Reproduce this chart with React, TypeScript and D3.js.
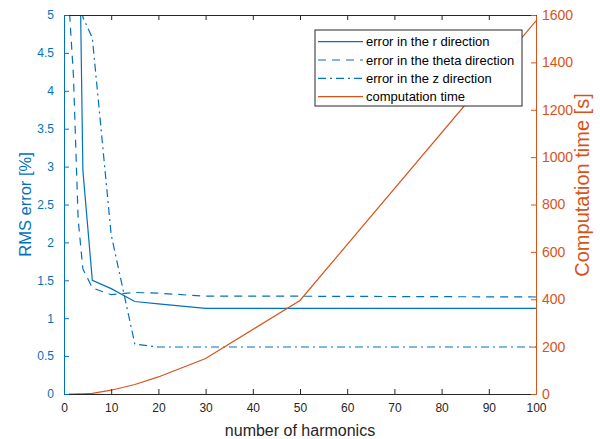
import React, { useEffect, useRef } from 'react';
import * as d3 from 'd3';

const width = 600;
const height = 439;
const margin = { top: 15, right: 64, bottom: 45, left: 64 };

// harmonics sampled in the study
const harmonics = [1, 2, 3, 4, 6, 10, 15, 20, 30, 50, 100];

// RMS error [%] per direction (values above 5 are cut off by the axes)
const errorR = [30, 15, 7.3, 2.95, 1.5, 1.39, 1.22, 1.19, 1.13, 1.13, 1.13];
const errorTheta = [5.2, 4.2, 2.3, 1.65, 1.4, 1.31, 1.34, 1.33, 1.29, 1.29, 1.28];
const errorZ = [20, 12, 6.5, 4.97, 4.7, 2.1, 0.66, 0.62, 0.62, 0.62, 0.62];

// computation time [s]
const compTime = [0, 0, 0.5, 1, 3, 16, 40, 72, 150, 395, 1575];

const xTicks = [0, 10, 20, 30, 40, 50, 60, 70, 80, 90, 100];
const leftTicks = [0, 0.5, 1, 1.5, 2, 2.5, 3, 3.5, 4, 4.5, 5];
const rightTicks = [0, 200, 400, 600, 800, 1000, 1200, 1400, 1600];

const legendLabels = [
  'error in the r direction',
  'error in the theta direction',
  'error in the z direction',
  'computation time',
];

const blue = '#0072BD';
const orange = '#D95319';
const dark = '#262626';
const font = '"Liberation Sans", Arial, sans-serif';

const x0 = margin.left;
const x1 = width - margin.right;
const y0 = height - margin.bottom;
const y1 = margin.top;

export default function App() {
  const xAxisRef = useRef<SVGGElement>(null);
  const topAxisRef = useRef<SVGGElement>(null);
  const leftAxisRef = useRef<SVGGElement>(null);
  const rightAxisRef = useRef<SVGGElement>(null);

  const xScale = d3.scaleLinear().domain([0, 100]).range([x0, x1]);
  const yLeft = d3.scaleLinear().domain([0, 5]).range([y0, y1]);
  const yRight = d3.scaleLinear().domain([0, 1600]).range([y0, y1]);

  const leftLine = d3.line<number>()
    .x((_, i) => xScale(harmonics[i]))
    .y(d => yLeft(d));
  const rightLine = d3.line<number>()
    .x((_, i) => xScale(harmonics[i]))
    .y(d => yRight(d));

  const series = [
    { values: errorR, dash: null },
    { values: errorTheta, dash: '8,6' },
    { values: errorZ, dash: '8,4,2,4' },
  ];

  useEffect(() => {
    const styleAxis = (g: any, color: string, size: number) => {
      g.select('.domain').attr('stroke', color);
      g.selectAll('.tick line').attr('stroke', color);
      g.selectAll('.tick text')
        .attr('fill', color)
        .style('font-family', font)
        .style('font-size', `${size}px`);
    };

    const xa = d3.select(xAxisRef.current)
      .call(d3.axisBottom(xScale).tickValues(xTicks).tickSizeInner(-5).tickSizeOuter(0).tickPadding(9) as any);
    styleAxis(xa, dark, 12);

    const ta = d3.select(topAxisRef.current)
      .call(d3.axisTop(xScale).tickValues(xTicks).tickSizeInner(-5).tickSizeOuter(0).tickFormat(() => '') as any);
    styleAxis(ta, dark, 12);

    const la = d3.select(leftAxisRef.current)
      .call(d3.axisLeft(yLeft).tickValues(leftTicks).tickSizeInner(-5).tickSizeOuter(0).tickPadding(10)
        .tickFormat(d => `${d}`) as any);
    styleAxis(la, blue, 12);

    const ra = d3.select(rightAxisRef.current)
      .call(d3.axisRight(yRight).tickValues(rightTicks).tickSizeInner(-5).tickSizeOuter(0).tickPadding(6)
        .tickFormat(d => `${d}`) as any);
    styleAxis(ra, orange, 14);
  }, []);

  const legendX = 315;
  const legendY = 30;
  const rowH = 18.3;

  return (
    <svg width={width} height={height} style={{ position: 'absolute', left: 0, top: 0, background: '#fff' }}>
      <defs>
        <clipPath id="plot-clip">
          <rect x={x0} y={y1} width={x1 - x0} height={y0 - y1} />
        </clipPath>
      </defs>

      <g clipPath="url(#plot-clip)">
        {series.map((s, i) => (
          <path key={i} d={leftLine(s.values) || ''} fill="none" stroke={blue}
            strokeWidth={1.2} strokeDasharray={s.dash || undefined} />
        ))}
        <path d={rightLine(compTime) || ''} fill="none" stroke={orange} strokeWidth={1.2} />
      </g>

      {/* axes */}
      <g ref={xAxisRef} transform={`translate(0, ${y0})`} />
      <g ref={topAxisRef} transform={`translate(0, ${y1})`} />
      <g ref={leftAxisRef} transform={`translate(${x0}, 0)`} />
      <g ref={rightAxisRef} transform={`translate(${x1}, 0)`} />

      {/* axis titles */}
      <text x={(x0 + x1) / 2} y={436} textAnchor="middle" fill={dark}
        style={{ fontFamily: font, fontSize: 16 }}>number of harmonics</text>
      <text transform={`translate(31, ${(y0 + y1) / 2}) rotate(-90)`} textAnchor="middle" fill={blue}
        style={{ fontFamily: font, fontSize: 16.5 }}>RMS error [%]</text>
      <text transform={`translate(589, 185) rotate(-90)`} textAnchor="middle" fill={orange}
        style={{ fontFamily: font, fontSize: 20 }}>Computation time [s]</text>

      {/* legend */}
      <g>
        <rect x={legendX} y={legendY} width={207} height={76} fill="#fff" stroke={dark} strokeWidth={1} />
        {legendLabels.map((label, i) => {
          const cy = legendY + 11.7 + i * rowH;
          const color = i === 3 ? orange : blue;
          const dash = i < 3 ? series[i].dash : null;
          return (
            <g key={label}>
              <line x1={legendX + 3} x2={legendX + 48} y1={cy} y2={cy} stroke={color}
                strokeWidth={1.2} strokeDasharray={dash || undefined} />
              <text x={legendX + 51} y={cy + 4.5} fill="#000" style={{ fontFamily: font, fontSize: 13 }}>{label}</text>
            </g>
          );
        })}
      </g>
    </svg>
  );
}
